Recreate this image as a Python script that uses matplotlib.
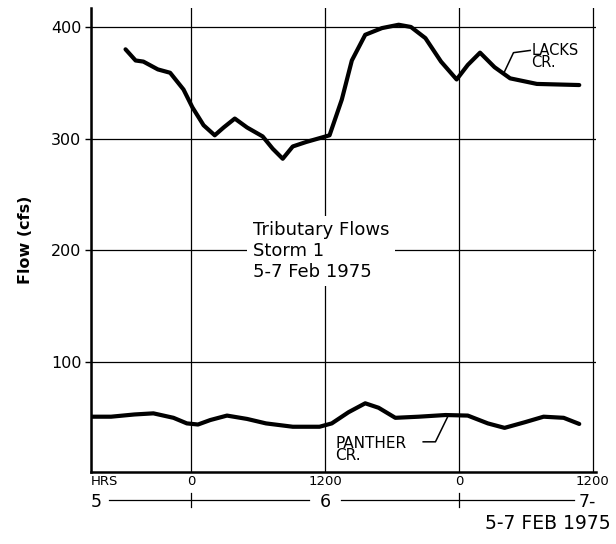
import matplotlib
matplotlib.use("Agg")
import matplotlib.pyplot as plt
import matplotlib.transforms as mtransforms

# hours measured from 0000 on 6 Feb 1975
lacks_hours = [-5.9, -5.0, -4.3, -3.0, -1.9, -0.7, 0.1, 1.1, 2.1, 2.9, 3.9, 5.0, 6.4, 7.3,
               8.2, 9.1, 10.3, 12.4, 13.5, 14.4, 15.6, 17.1, 18.6, 19.7, 21.0, 22.4,
               23.8, 24.8, 25.9, 27.2, 28.6, 31.0, 34.8]
lacks_flow = [380, 370, 369, 362, 359, 344, 328, 312, 303, 310, 318, 310, 302, 291,
              282, 293, 297, 303, 335, 370, 393, 399, 402, 400, 390, 369,
              353, 366, 377, 364, 354, 349, 348]

panther_hours = [-9.0, -7.2, -5.1, -3.4, -1.6, -0.4, 0.6, 1.7, 3.2, 5.0, 6.7, 9.1, 11.5,
                 12.6, 14.1, 15.6, 16.8, 18.3, 20.4, 22.8, 24.8, 26.6, 28.1, 29.9, 31.6,
                 33.4, 34.8]
panther_flow = [51, 51, 53, 54, 50, 45, 44, 48, 52, 49, 45, 42, 42,
                45, 55, 63, 59, 50, 51, 52.5, 52, 45, 41, 46, 51,
                50, 44.5]

hour_ticks = [-9, 0, 12, 24, 36]
hour_labels = ["HRS", "0", "1200", "0", "1200"]
flow_ticks = [100, 200, 300, 400]
flow_labels = ["100", "200", "300", "400"]
day_pos = [-9, 12, 36]
day_labels = ["5", "6", "7-"]

fig = plt.figure(figsize=(6.16, 5.44), dpi=100)
ax = fig.add_axes([0.1477, 0.1324, 0.8198, 0.8529])

ax.plot(lacks_hours, lacks_flow, color="black", lw=3.0, solid_capstyle="round",
        solid_joinstyle="round", zorder=4)
ax.plot(panther_hours, panther_flow, color="black", lw=3.0, solid_capstyle="round",
        solid_joinstyle="round", zorder=4)

ax.set_xlim(-9, 36.3)
ax.set_ylim(1.5, 417)

for s in ["top", "right"]:
    ax.spines[s].set_visible(False)
for s in ["left", "bottom"]:
    ax.spines[s].set_linewidth(1.8)

ax.set_yticks(flow_ticks)
ax.set_yticklabels(flow_labels, fontsize=11.5)
ax.set_xticks(hour_ticks)
ax.set_xticklabels(hour_labels, fontsize=9.5)
ax.get_xticklabels()[0].set_horizontalalignment("left")
ax.tick_params(axis="y", length=4, width=1, pad=3)
ax.tick_params(axis="x", length=0, pad=2)
ax.grid(True, color="black", lw=0.9)
ax.set_axisbelow(True)

ax.set_ylabel("Flow (cfs)", fontweight="bold", fontsize=11.5, labelpad=13)

# caption block in the middle, white background breaks the grid
ax.text(5.5, 226, "Tributary Flows\nStorm 1\n5-7 Feb 1975", ha="left", va="top",
        fontsize=13, linespacing=1.2, zorder=3,
        bbox=dict(facecolor="white", edgecolor="none", pad=4))

# curve labels with leader lines
ax.text(30.5, 386, "LACKS\nCR.", ha="left", va="top", fontsize=10.5,
        linespacing=0.8, zorder=5)
ax.plot([28.0, 28.9, 30.4], [358, 377, 379], color="black", lw=1.1, zorder=5)
ax.text(12.9, 34, "PANTHER\nCR.", ha="left", va="top", fontsize=11,
        linespacing=0.8, zorder=5,
        bbox=dict(facecolor="white", edgecolor="none", pad=1))
ax.plot([20.8, 21.9, 23.0], [28.5, 28.5, 51], color="black", lw=1.1, zorder=5)

# day row under the hour labels
trans = mtransforms.blended_transform_factory(ax.transData, ax.transAxes)
day_y = -0.06
for p, lab in zip(day_pos, day_labels):
    ha = "left" if p == day_pos[0] else ("right" if p == day_pos[-1] else "center")
    ax.text(p + (0.3 if ha == "right" else 0), day_y, lab, transform=trans, ha=ha,
            va="center_baseline", fontsize=12.5, clip_on=False)
ax.plot([-7.4, 10.6], [day_y, day_y], transform=trans, color="black", lw=0.9,
        clip_on=False)
ax.plot([13.4, 34.3], [day_y, day_y], transform=trans, color="black", lw=0.9,
        clip_on=False)
for p in [0, 24]:
    ax.plot([p, p], [day_y - 0.015, day_y + 0.015], transform=trans, color="black",
            lw=0.9, clip_on=False)

fig.text(0.992, 0.02, "5-7 FEB 1975", ha="right", va="bottom", fontsize=13.5)

fig.savefig("out.png", dpi=100)
